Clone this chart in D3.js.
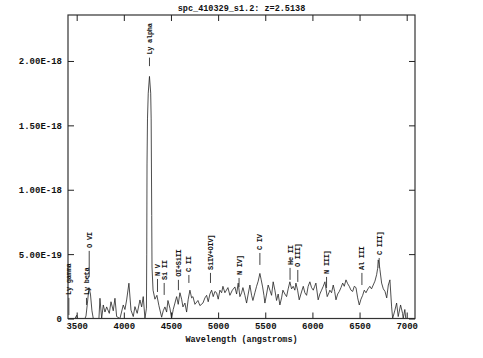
<!DOCTYPE html>
<meta charset="utf-8">
<script src="https://d3js.org/d3.v7.min.js"></script>
<style>
body { margin: 0; background: #fff; }
text { font-family: "Liberation Mono", "DejaVu Sans Mono", monospace; font-weight: bold; fill: #111; }
</style>
<div id="my_dataviz"></div>
<script>
// spectrum, flux in units of 1e-19
var wavelength = [3408,3429,3482,3500,3508,3588,3599,3614,3630,3646,3662,3676,3736,3747,3765,3782,3800,3818,3846,3864,
  3888,3906,3924,3959,3994,4012,4030,4054,4076,4100,4118,4142,4171,4189,4206,4224,4240,4243,4246,4251,
  4259,4272,4285,4290,4296,4299,4310,4330,4351,4372,4401,4418,4436,4454,4468,4489,4507,4524,4542,4560,
  4577,4595,4613,4627,4648,4666,4683,4701,4719,4733,4754,4786,4807,4839,4860,4878,4895,4913,4931,4948,
  4966,4984,5001,5019,5037,5051,5072,5104,5125,5151,5178,5196,5213,5231,5249,5263,5284,5302,5319,5337,
  5355,5369,5390,5408,5425,5443,5457,5472,5486,5496,5514,5531,5549,5567,5584,5602,5620,5637,5655,5673,
  5687,5708,5726,5743,5761,5779,5796,5814,5825,5843,5860,5878,5903,5920,5938,5955,5973,5991,6009,6024,
  6037,6061,6079,6097,6115,6133,6144,6157,6175,6185,6203,6221,6236,6250,6268,6285,6303,6321,6338,6356,
  6374,6391,6409,6427,6444,6462,6480,6497,6515,6533,6550,6568,6589,6609,6627,6645,6663,6681,6692,6698,
  6709,6716,6734,6752,6770,6788,6805,6822,6840,6851,6875,6893,6910,6935,6956,6963,6980,6990,7085];
var flux = [0,0,0,0.25,0,0,0.2,1.2,2.4,1.9,0.6,0,0,1.57,0,1.05,0.5,0.9,0.4,1.3,
  0.6,1.57,0.15,0,1.05,0.7,1.44,2.74,0.65,0.15,0.92,0.4,1.44,0.9,1.7,0,0.8,5,12,15.5,
  17.5,18.8,17.5,15.5,8,4,2.2,1.5,1.8,1.0,0.1,0.6,0.9,0.5,1.4,0.8,0,0.7,1.2,1.7,
  1.1,2.0,1.5,0.9,1.2,0.5,1.5,2.2,1.6,1.7,1.1,1.4,1.0,1.2,1.6,1.8,1.3,1.9,2.2,1.7,
  2.1,2.0,1.5,2.2,2.0,2.5,2.0,2.4,1.8,2.2,2.45,1.9,2.75,1.7,2.0,2.4,1.8,1.2,1.9,2.6,
  1.8,1.4,2.0,2.5,2.9,3.5,3.0,2.45,1.8,1.2,1.9,2.6,2.2,1.8,2.85,2.2,1.4,1.9,1.05,1.6,
  2.2,1.9,1.7,2.3,2.85,2.3,2.5,2.2,2.75,2.2,1.45,1.9,2.5,2.0,1.8,2.5,2.85,2.4,2.2,2.5,
  2.75,1.45,1.9,2.2,2.5,2.85,2.3,1.7,2.0,2.2,2.0,2.6,2.1,1.45,1.9,2.1,2.4,2.75,2.5,3.0,
  2.7,2.5,2.2,2.1,2.5,2.4,1.6,1.05,1.5,1.8,2.2,2.0,2.3,2.5,2.3,2.6,2.9,3.4,3.9,4.55,
  4.2,3.8,2.75,2.3,2.1,1.6,2.6,3.0,0.9,0,0.65,1.2,0.15,1.05,0.4,0,0.7,0,0];

// line identifications: observed wavelength, tick bottom / top (1e-19)
var lineNames = ["Ly gamma","Ly beta","O VI","Ly alpha","N V","Si II","OI+SiII","C II","SiIV+OIV]",
  "N IV]","C IV","He II","O III]","N III]","Al III","C III]"];
var lineWave = [3417,3604,3633,4272,4357,4428,4579,4690,4919,5222,5443,5763,5845,6150,6525,6708];
var tickLo = [0.27,1.05,3.23,19.6,2.06,1.83,2.2,2.76,2.76,2.45,4.16,3.0,2.84,2.37,2.6,3.93];
var tickHi = [1.6,1.6,5.25,20.26,3.07,2.76,3.0,3.38,3.54,3.15,5.09,3.93,3.77,3.23,3.54,4.7];

var xTicks = [3500,4000,4500,5000,5500,6000,6500,7000];
var yTicks = [0,5,10,15,20];
var yTickLabels = ["0","5.00E-19","1.00E-18","1.50E-18","2.00E-18"];

var title = "spc_410329_s1.2: z=2.5138";
var xTitle = "Wavelength (angstroms)";

var W = 483, H = 358;
var pLeft = 68, pRight = 415, pTop = 15, pBottom = 318.5;

var svg = d3.select("#my_dataviz")
  .append("svg")
    .attr("width", W)
    .attr("height", H);

var x = d3.scaleLinear().domain([3408, 7088]).range([pLeft, pRight]);
var y = d3.scaleLinear().domain([0, 23.57]).range([pBottom, pTop]);

// spectrum
var pts = wavelength.map(function(w, i) { return [w, flux[i]]; });
var line = d3.line()
  .x(function(d) { return x(d[0]); })
  .y(function(d) { return y(d[1]); });

svg.append("path")
  .datum(pts)
  .attr("d", line)
  .attr("fill", "none")
  .attr("stroke", "#222")
  .attr("stroke-width", 0.8);

// frame
svg.append("rect")
  .attr("x", pLeft).attr("y", pTop)
  .attr("width", pRight - pLeft).attr("height", pBottom - pTop)
  .attr("fill", "none")
  .attr("stroke", "#333")
  .attr("stroke-width", 1.2);

// axes, ticks pointing inward
svg.append("g")
  .attr("transform", "translate(0," + pBottom + ")")
  .call(d3.axisBottom(x).tickValues(xTicks).tickSizeInner(-6).tickSizeOuter(0).tickPadding(4).tickFormat(d3.format("d")))
  .call(function(g) { g.select(".domain").remove(); });
svg.append("g")
  .attr("transform", "translate(0," + pTop + ")")
  .call(d3.axisTop(x).tickValues(xTicks).tickSizeInner(-6).tickSizeOuter(0).tickFormat(""))
  .call(function(g) { g.select(".domain").remove(); });
svg.append("g")
  .attr("transform", "translate(" + pLeft + ",0)")
  .call(d3.axisLeft(y).tickValues(yTicks).tickSizeInner(-6).tickSizeOuter(0).tickPadding(6)
    .tickFormat(function(d, i) { return yTickLabels[i]; }))
  .call(function(g) { g.select(".domain").remove(); });
svg.append("g")
  .attr("transform", "translate(" + pRight + ",0)")
  .call(d3.axisRight(y).tickValues(yTicks).tickSizeInner(-6).tickSizeOuter(0).tickFormat(""))
  .call(function(g) { g.select(".domain").remove(); });

svg.selectAll(".tick line").attr("stroke", "#222");
svg.selectAll(".tick text")
  .style("font-family", "Liberation Mono, monospace")
  .style("font-weight", "bold")
  .style("font-size", "9px")
  .attr("fill", "#111");

// line ids
svg.selectAll("line.id")
  .data(lineWave)
  .enter()
  .append("line")
    .attr("class", "id")
    .attr("x1", function(d) { return x(d); })
    .attr("x2", function(d) { return x(d); })
    .attr("y1", function(d, i) { return y(tickLo[i]); })
    .attr("y2", function(d, i) { return y(tickHi[i]); })
    .attr("stroke", "#444")
    .attr("stroke-width", 1);

svg.selectAll("text.id")
  .data(lineWave)
  .enter()
  .append("text")
    .attr("class", "id")
    .attr("transform", function(d, i) {
      return "translate(" + x(d) + "," + (y(tickHi[i]) - 3) + ")rotate(-90)";
    })
    .attr("dy", "0.35em")
    .style("font-size", "7px")
    .style("letter-spacing", "-0.3px")
    .text(function(d, i) { return lineNames[i]; });

// titles
svg.append("text")
  .attr("x", (pLeft + pRight) / 2)
  .attr("y", 11)
  .attr("text-anchor", "middle")
  .style("font-size", "8.5px")
  .text(title);

svg.append("text")
  .attr("x", (pLeft + pRight) / 2)
  .attr("y", 342)
  .attr("text-anchor", "middle")
  .style("font-size", "8.5px")
  .text(xTitle);
</script>
